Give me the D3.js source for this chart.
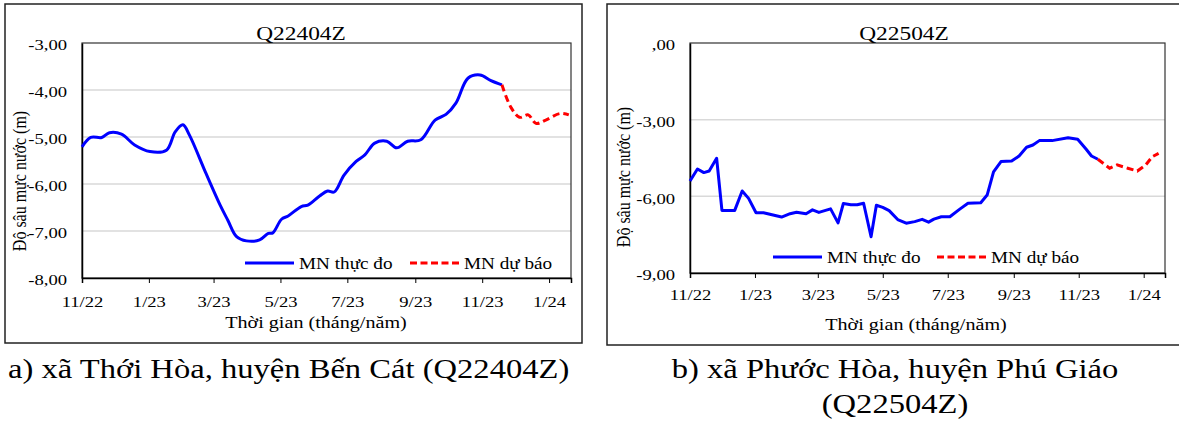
<!DOCTYPE html>
<html>
<head>
<meta charset="utf-8">
<script src="https://cdn.jsdelivr.net/npm/d3@7"></script>
<style>
body { margin: 0; background: #fff; }
svg { display: block; }
text { font-family: "Liberation Serif", "Times New Roman", serif; fill: #000; }
</style>
</head>
<body>
<script>
// --- data ---
var tickDates = ["2022-11-01","2023-01-01","2023-03-01","2023-05-01","2023-07-01","2023-09-01","2023-11-01","2024-01-01"];
var tickLabels = ["11/22","1/23","3/23","5/23","7/23","9/23","11/23","1/24"];

var yTicksA = [-3, -4, -5, -6, -7, -8];
var yLabelsA = ["-3,00","-4,00","-5,00","-6,00","-7,00","-8,00"];
var yTicksB = [0, -3, -6, -9];
var yLabelsB = [",00","-3,00","-6,00","-9,00"];

// Q22404Z - measured
var obsDatesA = ["2022-11-01","2022-11-09","2022-11-19","2022-11-26","2022-12-07","2022-12-19","2023-01-02","2023-01-17",
  "2023-01-25","2023-02-01","2023-02-07","2023-02-22","2023-03-07","2023-03-14","2023-03-22","2023-03-31","2023-04-12",
  "2023-04-20","2023-04-24","2023-05-02","2023-05-08","2023-05-20","2023-05-26","2023-06-06","2023-06-13","2023-06-19",
  "2023-06-28","2023-07-09","2023-07-17","2023-07-26","2023-08-06","2023-08-15","2023-08-25","2023-09-06","2023-09-19",
  "2023-09-29","2023-10-08","2023-10-19","2023-10-30","2023-11-09","2023-11-19"];
var obsValsA = [-5.21,-5.01,-5.01,-4.91,-4.94,-5.17,-5.31,-5.28,
  -4.89,-4.74,-4.96,-5.77,-6.45,-6.77,-7.12,-7.21,-7.19,
  -7.05,-7.04,-6.75,-6.68,-6.48,-6.45,-6.25,-6.15,-6.17,
  -5.81,-5.52,-5.38,-5.13,-5.09,-5.23,-5.09,-5.06,-4.64,
  -4.52,-4.28,-3.75,-3.68,-3.80,-3.89];
// Q22404Z - forecast
var fcDatesA = ["2023-11-19","2023-11-27","2023-12-05","2023-12-13","2023-12-20","2023-12-29","2024-01-11","2024-01-19"];
var fcValsA = [-3.89,-4.36,-4.58,-4.53,-4.71,-4.64,-4.50,-4.53];

// Q22504Z - measured
var obsDatesB = ["2022-11-01","2022-11-08","2022-11-14","2022-11-19","2022-11-26","2022-12-01","2022-12-13","2022-12-20",
  "2022-12-26","2023-01-02","2023-01-09","2023-01-18","2023-01-26","2023-02-03","2023-02-09","2023-02-18","2023-02-24",
  "2023-03-02","2023-03-13","2023-03-20","2023-03-25","2023-04-01","2023-04-07","2023-04-13","2023-04-20","2023-04-25",
  "2023-05-01","2023-05-07","2023-05-15","2023-05-23","2023-05-31","2023-06-07","2023-06-13","2023-06-18","2023-06-25",
  "2023-07-03","2023-07-12","2023-07-20","2023-08-01","2023-08-07","2023-08-13","2023-08-20","2023-08-30","2023-09-06",
  "2023-09-13","2023-09-19","2023-09-25","2023-10-07","2023-10-22","2023-10-31","2023-11-08","2023-11-13","2023-11-19"];
var obsValsB = [-5.40,-4.93,-5.07,-5.01,-4.51,-6.55,-6.55,-5.79,
  -6.08,-6.64,-6.64,-6.73,-6.81,-6.68,-6.62,-6.68,-6.53,
  -6.63,-6.49,-7.04,-6.28,-6.33,-6.33,-6.27,-7.58,-6.35,
  -6.43,-6.56,-6.91,-7.05,-6.99,-6.90,-7.01,-6.89,-6.80,
  -6.80,-6.51,-6.27,-6.25,-5.95,-5.04,-4.64,-4.62,-4.42,
  -4.08,-3.99,-3.82,-3.82,-3.71,-3.77,-4.16,-4.42,-4.55];
// Q22504Z - forecast
var fcDatesB = ["2023-11-19","2023-11-30","2023-12-07","2023-12-17","2023-12-26","2024-01-03","2024-01-09","2024-01-15"];
var fcValsB = [-4.55,-4.90,-4.77,-4.90,-5.01,-4.77,-4.45,-4.32];

var parseDate = d3.timeParse("%Y-%m-%d");
var SX = 1.2;   // the picture is stretched sideways a bit

var svg = d3.select("body").append("svg")
  .attr("width", 1179)
  .attr("height", 422);

function label(g, x, y, s, size, anchor, sx) {
  return g.append("text")
    .attr("transform", "translate(" + x + "," + y + ") scale(" + (sx || SX) + ",1)")
    .attr("text-anchor", anchor || "start")
    .style("font-size", size + "px")
    .text(s);
}

function pairs(dates, vals) {
  return dates.map(function(d, i) { return {date: parseDate(d), v: vals[i]}; });
}

function drawChart(o) {
  var g = svg.append("g");

  // outer frame
  g.append("rect")
    .attr("x", o.frame[0]).attr("y", o.frame[1])
    .attr("width", o.frame[2]).attr("height", o.frame[3])
    .attr("fill", "none").attr("stroke", "#222").attr("stroke-width", 1.5);

  var x = d3.scaleTime()
    .domain([parseDate("2022-11-01"), parseDate("2024-01-21")])
    .range([o.left, o.right]);
  var y = d3.scaleLinear()
    .domain(o.yDomain)
    .range([o.bottom, o.top]);

  // gridlines
  g.selectAll(".grid")
    .data(o.yTicks.filter(function(t) { return t !== o.yDomain[0] && t !== o.yDomain[1]; }))
    .enter().append("line")
    .attr("x1", o.left).attr("x2", o.right)
    .attr("y1", function(d) { return y(d); })
    .attr("y2", function(d) { return y(d); })
    .attr("stroke", "#d9d9d9").attr("stroke-width", 1.5);

  // plot area border
  g.append("rect")
    .attr("x", o.left).attr("y", o.top)
    .attr("width", o.right - o.left).attr("height", o.bottom - o.top)
    .attr("fill", "none").attr("stroke", "#333").attr("stroke-width", 1.2);

  // x axis
  var xa = g.append("g")
    .attr("transform", "translate(0," + o.bottom + ")")
    .call(d3.axisBottom(x)
      .tickValues(tickDates.map(parseDate))
      .tickFormat(function(d, i) { return tickLabels[i]; })
      .tickSize(5)
      .tickPadding(o.xPad));
  xa.select(".domain").attr("stroke", "#000").attr("stroke-width", 1.5);
  xa.selectAll(".tick line").attr("stroke", "#000");
  xa.selectAll("text")
    .attr("transform", "scale(" + SX + ",1)")
    .style("font-size", "15.5px")
    .style("font-family", '"Liberation Serif", serif');

  // y axis
  var ya = g.append("g")
    .attr("transform", "translate(" + o.left + ",0)")
    .call(d3.axisLeft(y)
      .tickValues(o.yTicks)
      .tickFormat(function(d, i) { return o.yLabels[i]; })
      .tickSize(0)
      .tickPadding(15));
  ya.select(".domain").attr("stroke", "#000").attr("stroke-width", 1.5);
  ya.selectAll("text")
    .attr("x", -15 / SX)
    .attr("dy", "0.45em")
    .attr("transform", "scale(" + SX + ",1)")
    .style("font-size", "15.5px")
    .style("font-family", '"Liberation Serif", serif');

  // lines
  var line = d3.line()
    .x(function(d) { return x(d.date); })
    .y(function(d) { return y(d.v); })
    .curve(o.curve);

  g.append("path")
    .attr("d", line(o.obs))
    .attr("fill", "none").attr("stroke", "#0000ff")
    .attr("stroke-width", 3).attr("stroke-linejoin", "round");
  g.append("path")
    .attr("d", line(o.fc))
    .attr("fill", "none").attr("stroke", "#ff0000")
    .attr("stroke-width", 3).attr("stroke-dasharray", "7,4");

  // legend
  var ly = o.legend[0];
  g.append("line").attr("x1", o.legend[1]).attr("x2", o.legend[1] + 49)
    .attr("y1", ly).attr("y2", ly)
    .attr("stroke", "#0000ff").attr("stroke-width", 3);
  label(g, o.legend[1] + 54, ly + 5.5, "MN thực đo", 16);
  g.append("line").attr("x1", o.legend[2]).attr("x2", o.legend[2] + 50)
    .attr("y1", ly).attr("y2", ly)
    .attr("stroke", "#ff0000").attr("stroke-width", 3).attr("stroke-dasharray", "7,3.5");
  label(g, o.legend[2] + 54, ly + 5.5, "MN dự báo", 16);

  // titles
  label(g, o.titleX, 40, o.title, 19.5, "middle");
  label(g, o.xTitleX, o.xTitleY, "Thời gian (tháng/năm)", 16.5, "middle", 1.22);
  g.append("text")
    .attr("transform", "translate(" + o.yTitle[0] + "," + o.yTitle[1] + ") rotate(-90) scale(1,1.2)")
    .attr("text-anchor", "middle")
    .style("font-size", "16px")
    .text("Độ sâu mực nước (m)");
}

drawChart({
  frame: [5, 4, 577, 339],
  left: 82, right: 571, top: 43, bottom: 278,
  yDomain: [-8, -3], yTicks: yTicksA, yLabels: yLabelsA,
  obs: pairs(obsDatesA, obsValsA), fc: pairs(fcDatesA, fcValsA),
  curve: d3.curveCatmullRom.alpha(0.5),
  xPad: 13,
  legend: [263, 245, 410],
  title: "Q22404Z", titleX: 301,
  xTitleX: 316, xTitleY: 328,
  yTitle: [26, 181]
});

drawChart({
  frame: [607, 4, 590, 341],
  left: 690, right: 1165, top: 43, bottom: 273,
  yDomain: [-9, 0], yTicks: yTicksB, yLabels: yLabelsB,
  obs: pairs(obsDatesB, obsValsB), fc: pairs(fcDatesB, fcValsB),
  curve: d3.curveLinear,
  xPad: 11,
  legend: [257, 773, 937],
  title: "Q22504Z", titleX: 904,
  xTitleX: 916, xTitleY: 330,
  yTitle: [630, 177]
});

// captions
label(svg, 8, 378, "a) xã Thới Hòa, huyện Bến Cát (Q22404Z)", 26.5, "start", 1.23);
label(svg, 895, 378, "b) xã Phước Hòa, huyện Phú Giáo", 26.5, "middle", 1.23);
label(svg, 895, 413, "(Q22504Z)", 26.5, "middle", 1.23);
</script>
</body>
</html>
